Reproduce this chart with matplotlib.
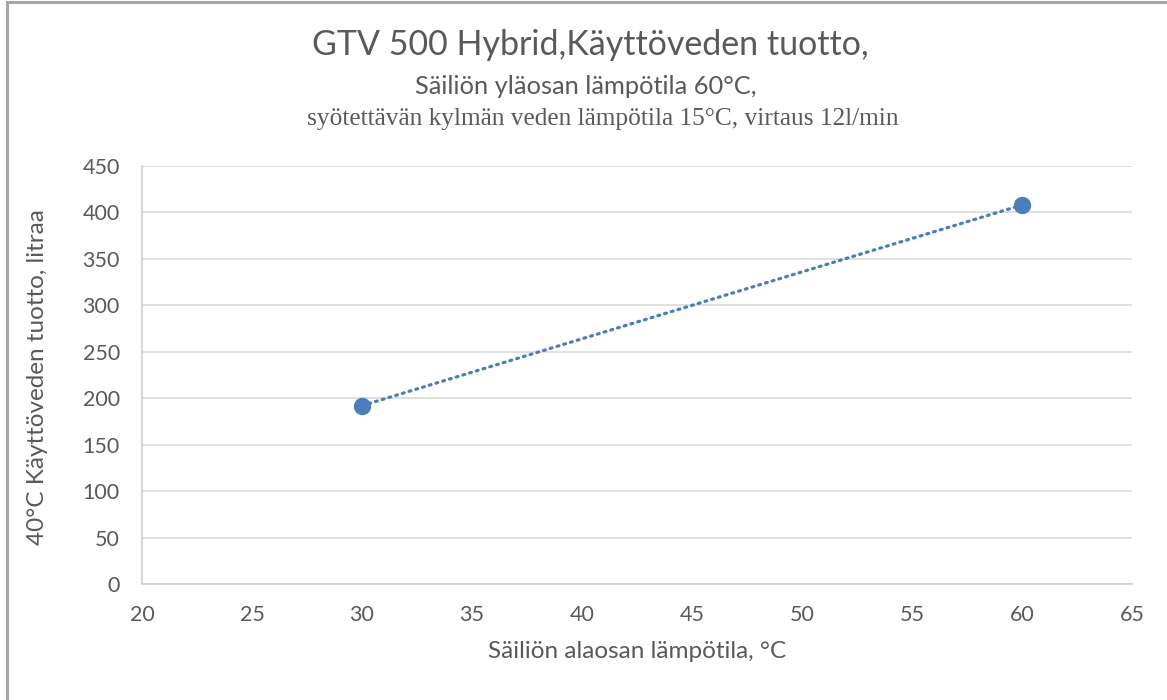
import numpy as np
import matplotlib.pyplot as plt
from matplotlib.patches import Rectangle

# data
alaosa = [30, 60]          # Säiliön alaosan lämpötila, °C
tuotto = [192, 408]        # 40°C käyttöveden tuotto, litraa
xticks = [20, 25, 30, 35, 40, 45, 50, 55, 60, 65]
yticks = [0, 50, 100, 150, 200, 250, 300, 350, 400, 450]

sans = ['Lato', 'DejaVu Sans']
serif = ['Liberation Serif', 'DejaVu Serif']
grey = '#595959'
blue = '#4a7ebb'

fig = plt.figure(figsize=(11.67, 7), dpi=100)
ax = fig.add_axes([142/1167, 1-584/700, 990/1167, 418/700])

# linear trendline (dotted) through the points
k, b = np.polyfit(alaosa, tuotto, 1)
tx = np.array([alaosa[0], alaosa[-1]])
ax.plot(tx, k*tx + b, color=blue, lw=2.3, ls=(0, (0.6, 1.6)),
        dash_capstyle='round', zorder=2)
ax.plot(alaosa, tuotto, 'o', color=blue, ms=11.5, zorder=3)

ax.set_xlim(20, 65)
ax.set_ylim(0, 450)
ax.set_xticks(xticks)
ax.set_yticks(yticks)
ax.tick_params(length=0, labelsize=15.5, labelcolor=grey)
ax.tick_params(axis='y', pad=16)
ax.tick_params(axis='x', pad=15)
for lab in ax.get_xticklabels() + ax.get_yticklabels():
    lab.set_family(sans)
ax.grid(axis='y', color='#d9d9d9', lw=1.2)
ax.set_axisbelow(True)
for s in ['top', 'right']:
    ax.spines[s].set_visible(False)
for s in ['left', 'bottom']:
    ax.spines[s].set_color('#d0d0d0')
    ax.spines[s].set_linewidth(1.2)

ax.set_xlabel('Säiliön alaosan lämpötila, °C', fontsize=17.5, color=grey,
              family=sans, labelpad=12)
fig.text(37/1167, 1-377/700, '40°C Käyttöveden tuotto, litraa', rotation=90,
         fontsize=17.5, color=grey, family=sans, ha='center', va='center')

fig.text(590/1167, 1-45/700, 'GTV 500 Hybrid,Käyttöveden tuotto,',
         fontsize=24.5, color=grey, family=sans, ha='center', va='center')
fig.text(586/1167, 1-87/700, 'Säiliön yläosan lämpötila 60°C,',
         fontsize=18.3, color=grey, family=sans, ha='center', va='center')
fig.text(603/1167, 1-119/700,
         'syötettävän kylmän veden lämpötila 15°C, virtaus 12l/min',
         fontsize=18.3, color=grey, family=serif, ha='center', va='center')

fig.patches.append(Rectangle((7/1167, -0.05), 1.1, 1.05 - 2/700,
                             transform=fig.transFigure, fill=False,
                             edgecolor='#a6a6a6', lw=2.2))

fig.savefig('out.png', dpi=100)
